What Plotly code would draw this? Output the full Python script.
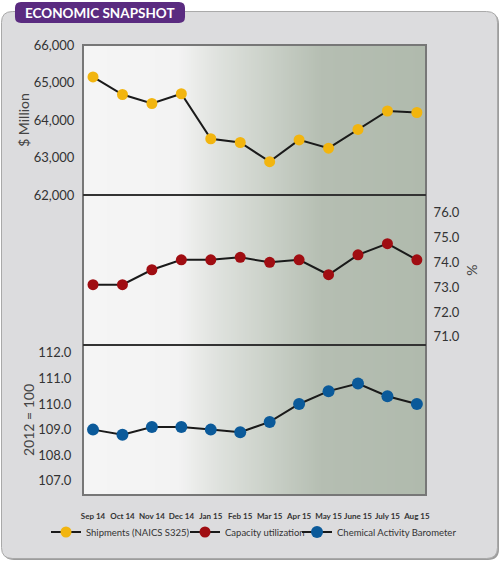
import plotly.graph_objects as go
from plotly.subplots import make_subplots

# data
months = ['Sep 14', 'Oct 14', 'Nov 14', 'Dec 14', 'Jan 15', 'Feb 15', 'Mar 15',
          'Apr 15', 'May 15', 'June 15', 'July 15', 'Aug 15']
shipments = [65150, 64680, 64440, 64700, 63500, 63400, 62890, 63470, 63250, 63750, 64240, 64200]
capacity = [73.1, 73.1, 73.7, 74.1, 74.1, 74.2, 74.0, 74.1, 73.5, 74.3, 74.75, 74.1]
cab = [109.0, 108.8, 109.1, 109.1, 109.0, 108.9, 109.3, 110.0, 110.5, 110.8, 110.3, 110.0]

FONT = 'Lato'
W, H = 500, 565
L, R, T, B = 83, 426, 45, 495


def px(x):
    return (x - L) / (R - L)


def py(y):
    return (B - y) / (B - T)


def rounded(x0, y0, x1, y1, r):
    pts = [('M', x0 + r, y0), ('L', x1 - r, y0), ('Q', x1, y0, x1, y0 + r),
           ('L', x1, y1 - r), ('Q', x1, y1, x1 - r, y1), ('L', x0 + r, y1),
           ('Q', x0, y1, x0, y1 - r), ('L', x0, y0 + r), ('Q', x0, y0, x0 + r, y0)]
    out = ''
    for p in pts:
        cmd, vals = p[0], p[1:]
        coords = []
        for i in range(0, len(vals), 2):
            coords.append('%.4f,%.4f' % (px(vals[i]), py(vals[i + 1])))
        out += cmd + ' '.join(coords) + ' '
    return out + 'Z'


def hex2rgb(h):
    return tuple(int(h[i:i + 2], 16) for i in (1, 3, 5))


fig = make_subplots(rows=3, cols=1, shared_xaxes=True, vertical_spacing=0)

fig.add_trace(go.Scatter(x=list(range(len(months))), y=shipments, name='Shipments (NAICS S325)',
                         mode='lines+markers', line=dict(color='#1a1a1a', width=2),
                         marker=dict(color='#f2b50f', size=11), legend='legend'), row=1, col=1)
fig.add_trace(go.Scatter(x=list(range(len(months))), y=capacity, name='Capacity utilization',
                         mode='lines+markers', line=dict(color='#1a1a1a', width=2),
                         marker=dict(color='#a00d12', size=11), legend='legend2'), row=2, col=1)
fig.add_trace(go.Scatter(x=list(range(len(months))), y=cab, name='Chemical Activity Barometer',
                         mode='lines+markers', line=dict(color='#1a1a1a', width=2),
                         marker=dict(color='#0b5a9a', size=12), legend='legend3'), row=3, col=1)

shapes = []
# outer rounded panel with a little shadow
shapes.append(dict(type='path', xref='paper', yref='paper', layer='below',
                   path=rounded(3, 13, 499, 560, 11), fillcolor='#9c9c9c', line=dict(width=0)))
shapes.append(dict(type='path', xref='paper', yref='paper', layer='below',
                   path=rounded(1.5, 11.5, 497.5, 558.5, 11), fillcolor='#dcdcde',
                   line=dict(color='#a9a9a9', width=1)))

# horizontal gradient behind the plot area
stops = [(83, '#f5f5f5'), (178, '#f3f3f3'), (215, '#e0e3df'), (262, '#cdd3cb'),
         (322, '#b5beb2'), (426, '#b0baad')]
x = L
step = 2
while x < R:
    xm = x + step / 2
    for i in range(len(stops) - 1):
        if stops[i][0] <= xm <= stops[i + 1][0]:
            t = (xm - stops[i][0]) / (stops[i + 1][0] - stops[i][0])
            c0, c1 = hex2rgb(stops[i][1]), hex2rgb(stops[i + 1][1])
            c = tuple(round(c0[k] + (c1[k] - c0[k]) * t) for k in range(3))
            break
    shapes.append(dict(type='rect', xref='paper', yref='paper', layer='below',
                       x0=px(x), x1=px(min(x + step + 0.6, R)), y0=0, y1=1,
                       fillcolor='rgb(%d,%d,%d)' % c, line=dict(width=0)))
    x += step

# plot border and separators
shapes.append(dict(type='rect', xref='paper', yref='paper', x0=0, x1=1, y0=0, y1=1,
                   line=dict(color='#777777', width=2)))
for yy in (1 / 3, 2 / 3):
    shapes.append(dict(type='line', xref='paper', yref='paper', x0=0, x1=1, y0=yy, y1=yy,
                       line=dict(color='#333333', width=2)))

# title badge
shapes.append(dict(type='path', xref='paper', yref='paper',
                   path=rounded(15, 2, 185, 23, 6), fillcolor='#5a2b80', line=dict(width=0)))

annotations = [dict(text='ECONOMIC SNAPSHOT', xref='paper', yref='paper', x=px(100), y=py(12.5),
                    showarrow=False, font=dict(family=FONT, size=13.5, color='white', weight='bold'),
                    xanchor='center', yanchor='middle')]

leg = dict(orientation='h', xanchor='left', y=py(532), yanchor='middle',
           font=dict(family=FONT, size=9.5, color='#333333'), bgcolor='rgba(0,0,0,0)',
           borderwidth=0, itemwidth=30)

fig.update_layout(
    width=W, height=H,
    margin=dict(l=L, r=W - R, t=T, b=H - B, autoexpand=False),
    paper_bgcolor='white',
    plot_bgcolor='rgba(0,0,0,0)',
    font=dict(family=FONT, size=13, color='#333333'),
    shapes=shapes,
    annotations=annotations,
    showlegend=True,
    legend=dict(leg, x=px(46)),
    legend2=dict(leg, x=px(185)),
    legend3=dict(leg, x=px(297)),
)

xr = [-0.34, 11.31]
fig.update_xaxes(range=xr, showgrid=False, zeroline=False, showline=False, showticklabels=False,
                 automargin=False)
fig.update_xaxes(row=3, col=1, showticklabels=True, tickmode='array',
                 tickvals=list(range(len(months))), ticktext=months, tickangle=0,
                 ticks='outside', ticklen=13, tickcolor='rgba(0,0,0,0)',
                 tickfont=dict(family=FONT, size=8, color='#333333', weight='bold'))

title_font = dict(family=FONT, size=14, color='#444444')
fig.update_yaxes(automargin=False, showgrid=False, zeroline=False, ticks='outside',
                 tickcolor='rgba(0,0,0,0)')
fig.update_yaxes(row=1, col=1, range=[62000, 66000], dtick=1000, tickformat=',', ticklen=5,
                 title=dict(text='$ Million', standoff=0, font=title_font))
fig.update_yaxes(row=2, col=1, range=[70.67, 76.71], dtick=1, tickformat='.1f', side='right',
                 ticklen=4, title=dict(text='%', standoff=8, font=title_font))
fig.update_yaxes(row=3, col=1, range=[106.45, 112.3], dtick=1, tickformat='.1f', ticklen=8,
                 title=dict(text='2012 = 100', standoff=0, font=title_font))

# the page's default body margin would shift the chart by 8px
fig.write_html('out.html', config={'displayModeBar': False},
               post_script="document.body.style.margin='0';")
